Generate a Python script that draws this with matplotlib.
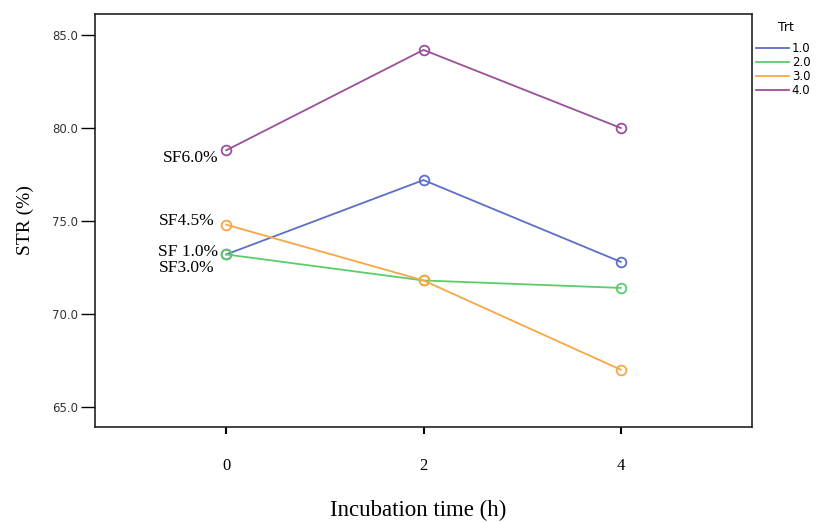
import matplotlib
matplotlib.use("Agg")
import matplotlib.pyplot as plt
from matplotlib.lines import Line2D

times = [0, 2, 4]
trt_labels = ["1.0", "2.0", "3.0", "4.0"]
str_sf10 = [73.2, 77.2, 72.8]
str_sf30 = [73.2, 71.8, 71.4]
str_sf45 = [74.8, 71.8, 67.0]
str_sf60 = [78.8, 84.2, 80.0]
series = [str_sf10, str_sf30, str_sf45, str_sf60]
yticks = [65.0, 70.0, 75.0, 80.0, 85.0]
annot_text = ["SF6.0%", "SF4.5%", "SF 1.0%", "SF3.0%"]
annot_y = [78.8, 74.8, 73.2, 73.2]

# layout / style
colors = ["#5b6fc6", "#5ccd6a", "#f9a645", "#9b4f9c"]
annot_offsets = [(-5.8, -5.8), (-8.6, 2.9), (-5.8, 2.0), (-8.6, -10.0)]

fig = plt.figure(figsize=(8.18, 5.22), dpi=100)
ax = fig.add_axes([95/818, 1-427/522, (752-95)/818, (427-14)/522])

for vals, c, lab in zip(series, colors, trt_labels):
    ax.plot(times, vals, color=c, lw=1.3, marker="o", ms=7, mfc="none",
            mec=c, mew=1.3, label=lab)

ax.set_xlim(-1.33, 5.33)
ax.set_ylim(63.92, 86.13)
ax.set_xticks(times)
ax.set_xticklabels([str(t) for t in times], fontfamily="Liberation Serif", fontsize=12)
ax.set_yticks(yticks)
ax.set_yticklabels([f"{v:.1f}" for v in yticks], fontfamily="DejaVu Sans",
                   fontsize=8.5, color="#333333")
ax.tick_params(axis="y", direction="out", length=10, width=1, pad=2)
ax.tick_params(axis="x", direction="out", length=5, width=1.5, pad=17)
for s in ax.spines.values():
    s.set_linewidth(1.2)
    s.set_color("#222222")

for txt, y, off in zip(annot_text, annot_y, annot_offsets):
    ax.annotate(txt, xy=(0, y), xytext=off, textcoords="offset points",
                ha="right", va="center", fontfamily="Liberation Serif", fontsize=12.5)

ax.set_ylabel("STR (%)", fontfamily="Liberation Serif", fontsize=14, labelpad=13)
fig.text(418/818, 1-516/522, "Incubation time (h)", ha="center", va="baseline",
         fontfamily="Liberation Serif", fontsize=16.5)

handles = [Line2D([0], [0], color=c, lw=1.3) for c in colors]
leg = fig.legend(handles, trt_labels, loc="upper left",
                 bbox_to_anchor=(751/818, 1-37/522), frameon=False,
                 prop={"family": "DejaVu Sans", "size": 8.5},
                 handlelength=2.8, handletextpad=0.25, labelspacing=0.1,
                 borderaxespad=0)
fig.text(786/818, 1-27.5/522, "Trt", ha="center", va="center",
         fontfamily="DejaVu Sans", fontsize=9)

fig.savefig("out.png", dpi=100)
